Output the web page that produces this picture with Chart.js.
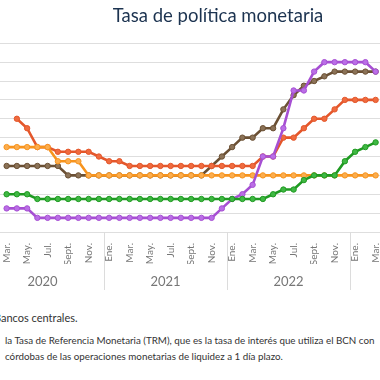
<!DOCTYPE html>
<html>
<head>
<meta charset="utf-8">
<script src="https://cdn.jsdelivr.net/npm/chart.js@4.4.0/dist/chart.umd.min.js"></script>
<style>
  html, body { margin:0; padding:0; width:380px; height:380px; overflow:hidden; background:#fff; }
  body { position:relative; font-family: Lato, "Open Sans", sans-serif; }
  #title { position:absolute; left:0; top:4px; width:436px; text-align:center; font-size:18.5px; color:#1c3350; white-space:nowrap; }
  #wrap { position:absolute; left:-24px; top:0; width:502px; height:302px; }
  #src { position:absolute; top:311px; left:0; font-size:11px; color:#333; white-space:nowrap; }
  .note { position:absolute; left:5px; font-size:9.8px; color:#333; white-space:nowrap; }
</style>
</head>
<body>
<div id="wrap"><canvas id="chart"></canvas></div>
<div id="title">Tasa de política monetaria</div>
<div id="src">Fuente: Bancos centrales.</div>
<div class="note" style="top:334px">la Tasa de Referencia Monetaria (TRM), que es la tasa de interés que utiliza el BCN con</div>
<div class="note" style="top:350px">córdobas de las operaciones monetarias de liquidez a 1 día plazo.</div>
<script>
// ---- data ----
const monthLabels = ['Ene.','Feb.','Mar.','Abr.','May.','Jun.','Jul.','Ago.','Sept.','Oct.','Nov.','Dic.'];
const yearLabels = ['2020','2021','2022','2023'];
const categories = yearLabels.flatMap(y => monthLabels.map(m => m + ' ' + y));

const nicaragua = [
  null,null,4.5,4.5,4.5,4.5,4.5,3.75,3.75,3.75,3.0,3.0,
  3.0,3.0,3.0,3.0,3.0,3.0,3.0,3.0,3.0,3.0,3.0,3.0,
  3.0,3.0,3.0,3.0,3.0,3.0,3.0,3.0,3.0,3.0,3.0,3.0,
  3.0,3.0,3.0,null,null,null,null,null,null,null,null,null
];
const serieRoja = [
  null,null,null,6.0,5.5,4.5,4.5,4.25,4.25,4.25,4.25,4.0,
  3.75,3.75,3.5,3.5,3.5,3.5,3.5,3.5,3.5,3.5,3.5,3.5,
  3.5,3.5,3.5,4.0,4.0,5.0,5.0,5.5,6.0,6.0,6.5,7.0,
  7.0,7.0,7.0,null,null,null,null,null,null,null,null,null
];
const republicaDominicana = [
  null,null,3.5,3.5,3.5,3.5,3.5,3.5,3.0,3.0,3.0,3.0,
  3.0,3.0,3.0,3.0,3.0,3.0,3.0,3.0,3.0,3.0,3.5,4.0,
  4.5,5.0,5.0,5.5,5.5,6.5,7.25,7.75,8.0,8.25,8.5,8.5,
  8.5,8.5,8.5,null,null,null,null,null,null,null,null,null
];
const guatemala = [
  null,null,2.0,2.0,2.0,1.75,1.75,1.75,1.75,1.75,1.75,1.75,
  1.75,1.75,1.75,1.75,1.75,1.75,1.75,1.75,1.75,1.75,1.75,1.75,
  1.75,1.75,1.75,1.75,2.0,2.25,2.25,2.75,3.0,3.0,3.0,3.75,
  4.25,4.5,4.75,null,null,null,null,null,null,null,null,null
];
const costaRica = [
  null,null,1.25,1.25,1.25,0.75,0.75,0.75,0.75,0.75,0.75,0.75,
  0.75,0.75,0.75,0.75,0.75,0.75,0.75,0.75,0.75,0.75,0.75,1.25,
  1.75,2.0,2.5,4.0,4.0,5.5,7.5,7.5,8.5,9.0,9.0,9.0,
  9.0,9.0,8.5,null,null,null,null,null,null,null,null,null
];

function series(label, data, line, fill) {
  return {
    label, data,
    borderColor: line, backgroundColor: fill,
    borderWidth: 2.6, tension: 0,
    pointRadius: 2.7, pointBorderWidth: 1,
    pointBackgroundColor: fill, pointBorderColor: line,
    spanGaps: false
  };
}

const yearSeparators = {
  id: 'yearSeparators',
  afterDraw(chart) {
    const xs = chart.scales.x;
    const ctx = chart.ctx;
    const band = xs.getPixelForValue(1) - xs.getPixelForValue(0);
    ctx.save();
    ctx.strokeStyle = '#dcdcdc';
    ctx.lineWidth = 1;
    for (let i = 0; i <= categories.length; i += 12) {
      const px = Math.round(xs.getPixelForValue(i) - band / 2) + 0.5;
      ctx.beginPath();
      ctx.moveTo(px, chart.chartArea.bottom);
      ctx.lineTo(px, chart.chartArea.bottom + 58);
      ctx.stroke();
    }
    ctx.restore();
  }
};

new Chart(document.getElementById('chart'), {
  type: 'line',
  data: {
    labels: categories,
    datasets: [
      series('Guatemala', guatemala, '#1f9a22', '#3fb843'),
      series('Costa Rica', costaRica, '#a64fd3', '#ba6ee6'),
      series('Nicaragua (TRM)', nicaragua, '#f7941e', '#fbad4f'),
      series('Otro banco central', serieRoja, '#e4572b', '#ef6b3f'),
      series('República Dominicana', republicaDominicana, '#6b5034', '#8b7257')
    ]
  },
  options: {
    responsive: true,
    maintainAspectRatio: false,
    animation: false,
    layout: { padding: { top: 43.3, left: 0, right: 0, bottom: 0 } },
    plugins: { legend: { display: false }, title: { display: false }, tooltip: { enabled: false } },
    scales: {
      x: {
        type: 'category',
        offset: true,
        grid: { display: false },
        border: { display: false },
        ticks: {
          autoSkip: false, maxRotation: 90, minRotation: 90, padding: 3,
          color: '#767676', font: { family: 'Lato', size: 10 },
          callback: (v, i) => (i % 2 === 0 ? monthLabels[i % 12] : '')
        },
        afterFit: s => { s.height = 32; s.paddingLeft = 0; s.paddingRight = 0; }
      },
      x2: {
        type: 'category',
        labels: yearLabels,
        position: 'bottom',
        offset: true,
        grid: { display: false },
        border: { display: false },
        ticks: { color: '#767676', font: { family: 'Lato', size: 13 }, padding: 2, maxRotation: 0 },
        afterFit: s => { s.height = 38; s.paddingLeft = 0; s.paddingRight = 0; }
      },
      y: {
        min: 0, max: 10,
        ticks: { stepSize: 1, display: false },
        grid: { color: '#dedede', drawTicks: false, lineWidth: 1 },
        border: { display: false },
        afterFit: s => { s.width = 0; }
      }
    }
  },
  plugins: [yearSeparators]
});

// shift the source line so that only the visible part appears as in the cropped original
(function () {
  const m = document.createElement('canvas').getContext('2d');
  m.font = '11px Lato';
  const off = m.measureText('Fuente: B').width;
  document.getElementById('src').style.left = (1 - off) + 'px';
})();
</script>
</body>
</html>
